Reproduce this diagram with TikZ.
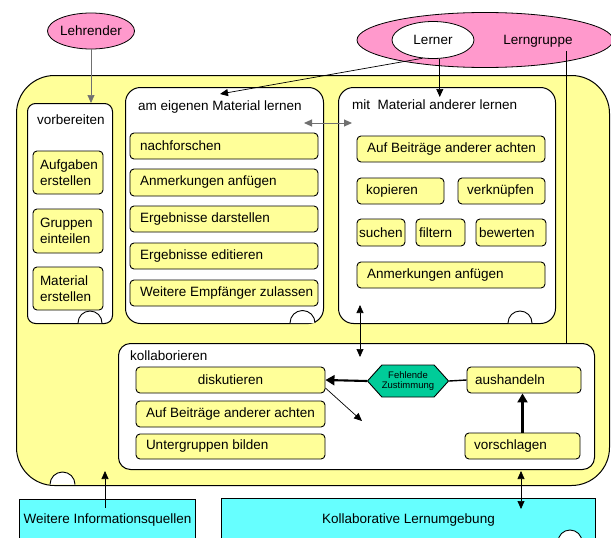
\documentclass[tikz,border=0pt]{standalone}
\usepackage{fontspec}
\setmainfont{Liberation Sans}
\usetikzlibrary{arrows.meta,shapes.geometric,shapes.symbols}
\definecolor{yfill}{HTML}{FFFF99}
\definecolor{pinkfill}{HTML}{FF99CC}
\definecolor{cyanfill}{HTML}{66FFFF}
\definecolor{tealfill}{HTML}{00CC99}
\definecolor{greyline}{HTML}{707070}
% #1 name, #2 left x, #3 top y, #4 width, #5 height, #6 left pad, #7 text
\newcommand\ydbox[7]{\node[ybox,minimum width=#4pt,minimum height=#5pt] (#1) at (#2+#4/2,#3+#5/2) {\makebox[\dimexpr#4pt-#6pt-#6pt\relax][l]{#7}};}
\begin{document}
\begin{tikzpicture}[x=1pt,y=-1pt,
  every node/.style={font=\fontsize{13.5}{16}\selectfont},
  ybox/.style={draw, fill=yfill, rounded corners=4pt, line width=0.9pt, inner sep=0pt},
  wbox/.style={draw, fill=white, line width=1pt, inner sep=0pt, anchor=north west},
  cbox/.style={draw, fill=cyanfill, line width=1pt, inner sep=0pt, anchor=north west},
  titletext/.style={anchor=west, inner sep=0pt},
  halfcirc/.style={draw, fill=white, line width=0.9pt},
  arr/.style={-{Triangle[length=8pt,width=7pt]}, line width=0.7pt},
  darr/.style={{Triangle[length=8pt,width=7pt]}-{Triangle[length=8pt,width=7pt]}, line width=0.7pt},
  heavyarr/.style={-{Triangle[length=9pt,width=10pt]}, line width=2.1pt},
  oval/.style={ellipse, draw, line width=0.8pt, inner sep=0pt}
]
\useasboundingbox (0,0) rectangle (611,538);
\clip (0,0) rectangle (611,538);

% big yellow environment
\node[draw, fill=yfill, line width=1pt, rounded corners=38pt, minimum width=593pt, minimum height=410pt, anchor=north west, inner sep=0pt] (env) at (16,75) {};
\draw[halfcirc] (50,484.5) arc[start angle=180,end angle=360,radius=12.5];

% ellipses
\node[oval, fill=pinkfill, minimum width=84pt, minimum height=36pt] (lehrender) at (91,31) {Lehrender};
\node[oval, fill=pinkfill, minimum width=256pt, minimum height=55pt] (lgruppe) at (485,40) {};
\node[inner sep=0pt] (lgtext) at (538,41) {Lerngruppe};
\node[oval, fill=white, minimum width=82pt, minimum height=37pt] (lerner) at (433,40) {Lerner};

% vorbereiten
\node[wbox, rounded corners=8pt, minimum width=85pt, minimum height=220pt] (vorb) at (27,103) {};
\node[titletext] (vorbt) at (37,120) {vorbereiten};
\node[ybox, minimum width=70pt, minimum height=43pt] (aufg) at (68,172.5) {\parbox{56pt}{\raggedright Aufgaben\\erstellen}};
\node[ybox, minimum width=70pt, minimum height=44pt] (grup) at (68,231) {\parbox{56pt}{\raggedright Gruppen\\einteilen}};
\node[ybox, minimum width=70pt, minimum height=43pt] (matl) at (68,288.5) {\parbox{56pt}{\raggedright Material\\erstellen}};
\draw[halfcirc] (78,323) arc[start angle=180,end angle=360,radius=12];

% am eigenen Material lernen
\node[wbox, rounded corners=15pt, minimum width=198pt, minimum height=236pt] (eigen) at (125,87) {};
\node[titletext] (eigent) at (138,107) {am eigenen Material lernen};
\ydbox{nachf}{130}{133}{188}{26}{10}{nachforschen}
\ydbox{anm}{130}{169}{188}{27}{10}{Anmerkungen anfügen}
\ydbox{ergd}{130}{206}{188}{26}{10}{Ergebnisse darstellen}
\ydbox{erge}{130}{243}{188}{26}{10}{Ergebnisse editieren}
\ydbox{weit}{130}{280}{188}{26}{10}{Weitere Empfänger zulassen}
\draw[halfcirc] (290,323) arc[start angle=180,end angle=360,radius=12.5];

% mit Material anderer lernen
\node[wbox, rounded corners=15pt, minimum width=217pt, minimum height=236pt] (ander) at (338,87) {};
\node[titletext] (andert) at (352,105) {mit~ Material anderer lernen};
\ydbox{aufb}{357}{136}{188}{26}{10}{Auf Beiträge anderer achten}
\ydbox{kop}{357}{178}{87}{26}{9}{kopieren}
\ydbox{verk}{458}{178}{87}{26}{9}{verknüpfen}
\ydbox{such}{357}{219}{48}{27}{2}{suchen}
\ydbox{filt}{416}{219}{49}{27}{3}{filtern}
\ydbox{bew}{476}{219}{70}{27}{3}{bewerten}
\ydbox{anm2}{357}{262}{188}{26}{10}{Anmerkungen anfügen}
\draw[halfcirc] (508,323) arc[start angle=180,end angle=360,radius=12];

% kollaborieren
\node[wbox, rounded corners=12pt, minimum width=476pt, minimum height=126pt] (kollab) at (118,343) {};
\node[titletext] (kollabt) at (130,356) {kollaborieren};
\node[ybox, minimum width=189pt, minimum height=26pt] (diskut) at (230.5,380) {diskutieren};
\ydbox{aufb2}{136}{401}{189}{26}{10}{Auf Beiträge anderer achten}
\ydbox{untg}{136}{434}{189}{25}{10}{Untergruppen bilden}
\ydbox{aush}{467}{367}{114}{26}{8}{aushandeln}
\ydbox{vors}{465}{433}{115}{26}{9}{vorschlagen}
\node[signal, signal to=east and west, signal pointer angle=96, draw, fill=tealfill, line width=0.9pt, minimum width=71pt, minimum height=32pt, inner sep=0pt, align=center, font=\fontsize{9.5}{10.5}\selectfont] (hex) at (408,381) {Fehlende\\Zustimmung};

% cyan environment boxes
\node[cbox, minimum width=176pt, minimum height=42pt] (weitere) at (19,499) {Weitere Informationsquellen};
\node[cbox, minimum width=374pt, minimum height=44pt] (kollu) at (221,498) {Kollaborative Lernumgebung};
\draw[halfcirc] (570,542) circle[radius=12];

% free connector ends
\coordinate (lrnA) at (220,94);
\coordinate (lrnB) at (447,97);
\coordinate (lgstart) at (566,51);
\coordinate (hA) at (304,123);
\coordinate (hB) at (352,123);
\coordinate (vA) at (360,305);
\coordinate (vB) at (360,357);
\coordinate (dtip) at (362,421);
\coordinate (wiS) at (105,508);
\coordinate (wiE) at (105,471);
\coordinate (klA) at (521,471);
\coordinate (klB) at (521,509);

% connectors
\draw[arr, draw=greyline, fill=greyline] (lehrender) -- (lehrender |- vorb.north);
\draw[arr] (lerner.240) -- (lrnA);
\draw[arr] (lerner.290) -- (lerner.290 |- lrnB);
\draw[line width=0.8pt] (lgstart) -- (lgstart |- kollab.north);
\draw[darr, draw=greyline, fill=greyline, line width=1pt] (hA) -- (hB);
\draw[darr] (vA) -- (vB);
\draw[heavyarr] (hex.west) -- (diskut.east);
\draw[line width=1.4pt] (aush.west) -- (hex.east);
\draw[heavyarr] (vors.north) -- (vors.north |- aush.south);
\draw[arr] ([yshift=-8pt]diskut.east) -- (dtip);
\draw[arr] (wiS) -- (wiE);
\draw[darr] (klA) -- (klB);
\end{tikzpicture}
\end{document}
